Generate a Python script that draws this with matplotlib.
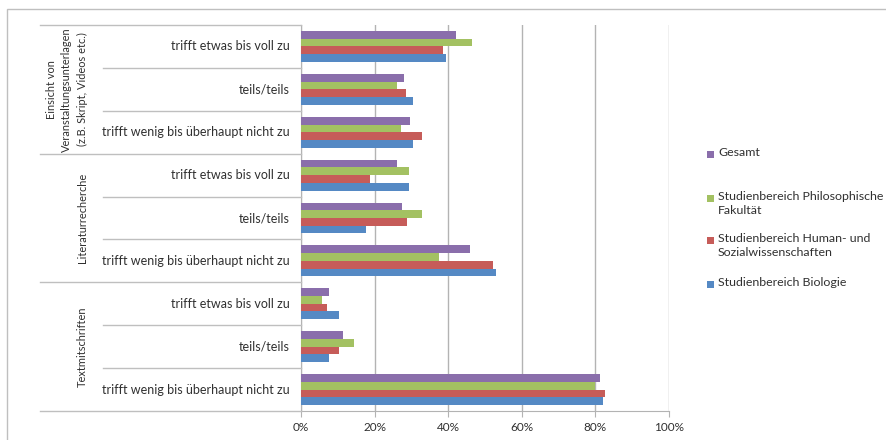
import matplotlib
matplotlib.use("Agg")
import matplotlib.pyplot as plt
from matplotlib.patches import Rectangle
from matplotlib.lines import Line2D
import numpy as np

plt.rcParams['font.family'] = ['Lato', 'DejaVu Sans']

# ---- data (rows listed top to bottom) ----
groups = ["Einsicht von\nVeranstaltungsunterlagen\n(z.B. Skript, Videos etc.)",
          "Literaturrecherche",
          "Textmitschriften"]
answers = ["trifft etwas bis voll zu", "teils/teils", "trifft wenig bis überhaupt nicht zu"]

series_names = ["Gesamt",
                "Studienbereich Philosophische\nFakultät",
                "Studienbereich Human- und\nSozialwissenschaften",
                "Studienbereich Biologie"]
series_colors = ["#8A6EAB", "#A3C162", "#C65C59", "#5589C4"]

gesamt = [42.2, 28.0, 29.5, 26.2, 27.5, 45.9, 7.5, 11.3, 81.3]
philo  = [46.6, 26.2, 27.1, 29.3, 33.0, 37.6, 5.7, 14.4, 79.9]
human  = [38.5, 28.5, 32.8, 18.8, 28.8, 52.2, 7.1, 10.2, 82.5]
bio    = [39.4, 30.4, 30.4, 29.4, 17.7, 53.0, 10.3, 7.5, 82.0]
series_values = [gesamt, philo, human, bio]

xticks = [0, 20, 40, 60, 80, 100]
xticklabels = ["0%", "20%", "40%", "60%", "80%", "100%"]

# ---- figure ----
W, H = 886, 440
fig = plt.figure(figsize=(W / 100, H / 100), dpi=100)

def fx(px):
    return px / W

def fy(py):
    return 1 - py / H

ax_l, ax_r, ax_t, ax_b = 301, 669, 25, 411
ax = fig.add_axes([fx(ax_l), fy(ax_b), fx(ax_r - ax_l), (ax_b - ax_t) / H])

n_rows = len(gesamt)
bar_h = 0.18
offsets = [0.23, 0.41, 0.59, 0.77]
rows = np.arange(n_rows)
for vals, col, off in zip(series_values, series_colors, offsets):
    ax.barh(rows + off, vals, height=bar_h, color=col, edgecolor='none', zorder=3)

ax.set_xlim(0, 100)
ax.set_ylim(n_rows, 0)
ax.set_xticks(xticks)
ax.set_xticklabels(xticklabels, fontsize=8.5, color='#303030')
ax.set_yticks([])
ax.grid(axis='x', color='#B3B3B3', linewidth=1.0, zorder=0)
for s in ['top', 'right']:
    ax.spines[s].set_visible(False)
ax.spines['left'].set_color('#B3B3B3')
ax.spines['bottom'].set_color('#B3B3B3')
ax.tick_params(axis='x', length=4, color='#B3B3B3', pad=4)

row_h = (ax_b - ax_t) / n_rows
grey = '#BFBFBF'
# row labels and separators
for i in range(n_rows):
    yc = ax_t + (i + 0.5) * row_h
    fig.text(fx(290), fy(yc), answers[i % 3], ha='right', va='center',
             fontsize=9, color='#303030')
for i in range(n_rows + 1):
    yb = ax_t + i * row_h
    x0 = 40 if i % 3 == 0 else 103
    fig.add_artist(Line2D([fx(x0), fx(ax_l)], [fy(yb), fy(yb)], color=grey, lw=1.0))

# group labels
for g, name in enumerate(groups):
    yc = ax_t + (g * 3 + 1.5) * row_h
    fig.text(fx(88), fy(yc), name, rotation=90, ha='right', va='center',
             multialignment='center', fontsize=7.9, color='#303030', linespacing=1.5)

# outer chart border
fig.add_artist(Rectangle((fx(7), fy(445)), fx(900), fy(9) - fy(445), fill=False,
                         edgecolor='#BFBFBF', lw=1.0))

# legend (manual, Excel-style)
leg_y = [155, 198, 240, 284]
for name, col, y in zip(series_names, series_colors, leg_y):
    fig.add_artist(Rectangle((fx(707), fy(y + 3.5)), fx(7), 7 / H,
                             facecolor=col, edgecolor='none'))
    fig.text(fx(718), fy(y - 7.5), name, ha='left', va='top', fontsize=8.9,
             color='#303030', linespacing=1.35)

fig.savefig("out.png", dpi=100)
